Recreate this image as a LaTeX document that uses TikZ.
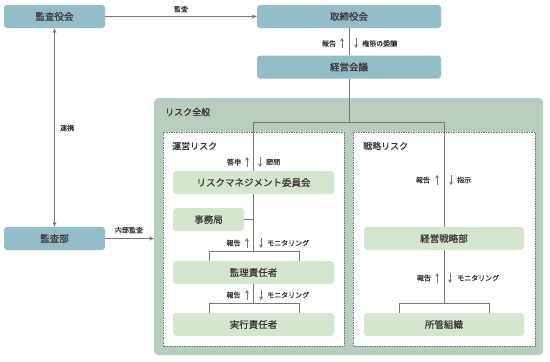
\documentclass[tikz,border=0pt]{standalone}
\usepackage{fontspec}
\setmainfont{Noto Sans CJK JP}[FakeBold=0.6]
\usetikzlibrary{arrows.meta}
\definecolor{bluefill}{HTML}{93BEC7}
\definecolor{biggreen}{HTML}{B7CDBD}
\definecolor{nodegreen}{HTML}{D4E6CE}
\definecolor{linec}{HTML}{7D7370}
\definecolor{txtc}{HTML}{3C3434}
\begin{document}
\begin{tikzpicture}[x=1pt,y=-1pt,
  every node/.style={text=txtc, inner sep=0pt},
  bluebox/.style={fill=bluefill, rounded corners=3pt, minimum height=23pt, font=\fontsize{9.5}{11}\selectfont},
  greenbox/.style={fill=nodegreen, rounded corners=3pt, minimum height=23pt, font=\fontsize{9.5}{11}\selectfont},
  conn/.style={draw=linec, line width=0.8pt},
  arr/.style={conn, -{Stealth[length=5pt,width=4pt]}},
  darr/.style={conn, {Stealth[length=5pt,width=4pt]}-{Stealth[length=5pt,width=4pt]}},
  smallarr/.style={draw=linec, line width=0.8pt, -{Stealth[length=3.5pt,width=4pt]}},
  lbl/.style={font=\fontsize{7}{8}\selectfont},
  grp/.style={font=\fontsize{9}{10}\selectfont, anchor=west},
  dashbox/.style={draw=linec, fill=white, line width=0.6pt, dash pattern=on 1.5pt off 1pt}
]
\useasboundingbox (0,0) rectangle (550,362);

% big green area and dashed groups
\fill[biggreen, rounded corners=4pt] (154,98) rectangle (543,355);
\node[grp] (zenpan) at (165,112) {リスク全般};
\draw[dashbox] (163,132) rectangle (344,346);
\draw[dashbox] (353,132) rectangle (535,346);
\node[grp] (unei) at (172,146) {運営リスク};
\node[grp] (senryakurisk) at (363,146) {戦略リスク};

% top boxes
\node[bluebox, minimum width=101pt] (kansayaku) at (54.5,16.5) {監査役会};
\node[bluebox, minimum width=184pt] (torishimari) at (349,16.5) {取締役会};
\node[bluebox, minimum width=184pt] (keiei) at (349,67) {経営会議};
\node[bluebox, minimum width=101pt] (kansabu) at (54.5,238.5) {監査部};

% green nodes
\node[greenbox, minimum width=161pt] (rm) at (253.5,182.5) {リスクマネジメント委員会};
\node[greenbox, minimum width=71pt] (jimu) at (208.5,219.5) {事務局};
\node[greenbox, minimum width=161pt] (kanri) at (253.5,272.5) {監理責任者};
\node[greenbox, minimum width=161pt] (jikko) at (253.5,324.5) {実行責任者};
\node[greenbox, minimum width=160pt] (senryaku) at (444,238.5) {経営戦略部};
\node[greenbox, minimum width=160pt] (shokan) at (444,324.5) {所管組織};

% connectors
\draw[arr] (kansayaku.east) -- (torishimari.west) node[lbl, midway, above=4pt] (lkansa) {監査};
\draw[darr] (kansayaku.south) -- (kansabu.north);
\node[lbl, anchor=west] (renkei) at (60,128) {連携};
\draw[arr] (kansabu.east) -- (154,238.5) coordinate (zenpanleft);
\node[lbl] (naibu) at (129,230) {内部監査};

\draw[conn] (torishimari.south) -- (keiei.north);
\coordinate (jn) at (349,122);
\coordinate (jl) at (253.5,122);
\coordinate (jr) at (444,122);
\draw[conn] (keiei.south) -- (jn);
\draw[conn] (jl) -- (jr);
\draw[conn] (jl) -- (rm.north);
\draw[conn] (jr) -- (senryaku.north);

% left column
\coordinate (b1) at (253.5,251);
\coordinate (b1l) at (209,251);
\coordinate (b1r) at (299,251);
\draw[conn] (rm.south) -- (b1);
\draw[conn] (jimu.east) -- (jimu.east -| rm.south);
\draw[conn] (b1l |- kanri.north) -- (b1l) -- (b1r) -- (b1r |- kanri.north);
\coordinate (b2) at (253.5,303);
\coordinate (b2l) at (209,303);
\coordinate (b2r) at (299,303);
\draw[conn] (kanri.south) -- (b2);
\draw[conn] (b2l |- jikko.north) -- (b2l) -- (b2r) -- (b2r |- jikko.north);

% right column
\coordinate (b3) at (444,303);
\coordinate (b3l) at (399,303);
\coordinate (b3r) at (489,303);
\draw[conn] (senryaku.south) -- (b3);
\draw[conn] (b3l |- shokan.north) -- (b3l) -- (b3r) -- (b3r |- shokan.north);

% label arrows
\node[lbl] (h1) at (329,43.5) {報告};
\draw[smallarr] (342,48) -- (342,38);
\draw[smallarr] (356,38) -- (356,48);
\node[lbl, anchor=west] (kengen) at (362,43.5) {権限の委譲};

\node[lbl] (toushin) at (234,162) {答申};
\draw[smallarr] (247,167) -- (247,157);
\draw[smallarr] (260,157) -- (260,167);
\node[lbl, anchor=west] (shimon) at (266,162) {諮問};

\node[lbl] (h2) at (233.5,243) {報告};
\draw[smallarr] (247,248) -- (247,238);
\draw[smallarr] (261,238) -- (261,248);
\node[lbl, anchor=west] (m2) at (267,243) {モニタリング};

\node[lbl] (h3) at (233.5,295) {報告};
\draw[smallarr] (247,300) -- (247,290);
\draw[smallarr] (261,290) -- (261,300);
\node[lbl, anchor=west] (m3) at (267,295) {モニタリング};

\node[lbl] (h4) at (423,180) {報告};
\draw[smallarr] (437,185) -- (437,175);
\draw[smallarr] (451,175) -- (451,185);
\node[lbl, anchor=west] (shiji) at (457,180) {指示};

\node[lbl] (h5) at (424,278) {報告};
\draw[smallarr] (437,283) -- (437,273);
\draw[smallarr] (450,273) -- (450,283);
\node[lbl, anchor=west] (m5) at (457,278) {モニタリング};
\end{tikzpicture}
\end{document}
